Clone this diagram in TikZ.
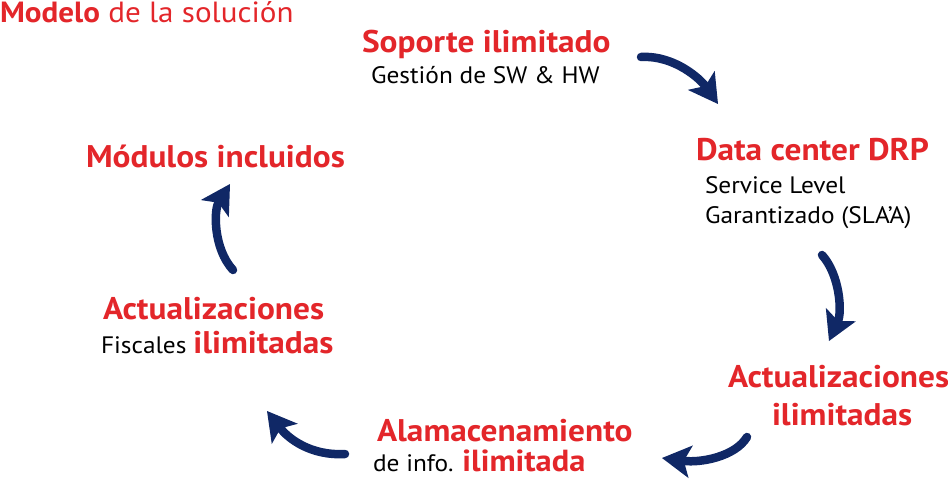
\documentclass[tikz,border=0pt]{standalone}
\usepackage{fontspec}
\setmainfont{PT Sans}[FakeStretch=1.065]
\usetikzlibrary{arrows.meta,positioning}
\definecolor{solRed}{RGB}{227,38,42}
\definecolor{solNavy}{RGB}{16,40,102}
\newcommand{\fs}[1]{\fontsize{#1pt}{#1pt}\selectfont}
\tikzset{%
	% Specifications for style of texts and arrows:
	base/.style = {anchor=base west, inner sep=0pt, outer sep=0pt},
	titleRed/.style = {base, text=solRed, font=\bfseries\fs{31.3}},
	subBlack/.style = {base, text=black, font=\fs{23.8}},
	cycleArrow/.style = {draw=solNavy, line width=8.5pt, line cap=round,
		-{Stealth[length=29pt,width=33pt,inset=7pt,line width=0pt]}},
}

\begin{document}
\begin{tikzpicture}[x=1pt, y=-1pt]
\useasboundingbox (0,0) rectangle (948,479);

%% Specification of texts (baseline positions)
\node (modelo)     [base, text=solRed, font=\fs{29.2}] at (0,23) {\textbf{Modelo} de la solución};

\node (soporte)    [titleRed] at (362,52) {Soporte ilimitado};
\node (gestion)    [subBlack] at (371,83) {Gestión de SW \& HW};

\node (datacenter) [titleRed] at (696,160) {Data center DRP};
\node (service)    [subBlack] at (705,193) {Service Level};
\node (garant)     [subBlack] at (705,223) {Garantizado (SLA’A)};

\node (actual)     [titleRed] at (728,387) {Actualizaciones};
\node (ilimit)     [titleRed] at (772,425) {ilimitadas};

\node (almacen)    [titleRed] at (377,441) {Alamacenamiento};
\node (deinfo)     [subBlack] at (373,471) {de info. \textcolor{solRed}{\bfseries\fs{30.5}ilimitada}};

\node (actfisc)    [titleRed] at (103,319) {Actualizaciones};
\node (fiscales)   [subBlack] at (101,353) {Fiscales \textcolor{solRed}{\bfseries\fs{31.3}ilimitadas}};

\node (modulos)    [titleRed] at (86,167) {Módulos incluidos};

%% Specification of arrows between the texts
\coordinate (a1s) at (641,57);  \coordinate (a1e) at (718,104);
\coordinate (a2s) at (822,255); \coordinate (a2e) at (829,341);
\coordinate (a3s) at (747,437); \coordinate (a3e) at (662,458);
\coordinate (a4s) at (345,454); \coordinate (a4e) at (267,411);
\coordinate (a5s) at (233,270); \coordinate (a5e) at (230,184);

\draw[cycleArrow] (a1s) .. controls (675,55) and (701,80) .. (a1e);
\draw[cycleArrow] (a2s) .. controls (840,275) and (842,312) .. (a2e);
\draw[cycleArrow] (a3s) .. controls (735,457) and (700,463) .. (a3e);
\draw[cycleArrow] (a4s) .. controls (310,456) and (288,438) .. (a4e);
\draw[cycleArrow] (a5s) .. controls (213,248) and (214,210) .. (a5e);
\end{tikzpicture}
\end{document}
